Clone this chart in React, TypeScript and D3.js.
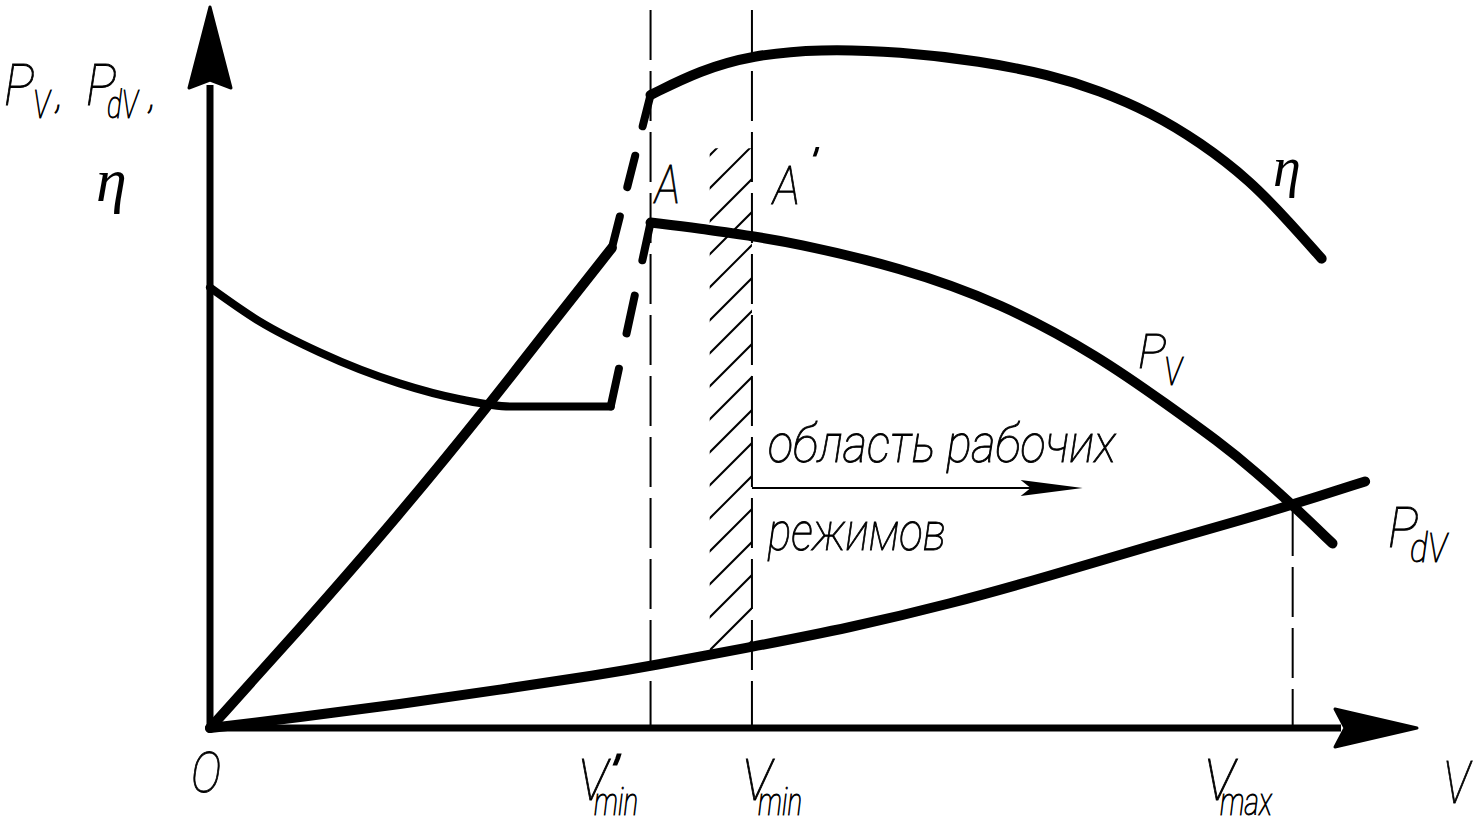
import React from "react";
import * as d3 from "d3";

const W = 1478;
const H = 831;

// All values in chart units: V (speed, 0..100), value (0..100)
const pdvCurve: [number, number][] = [
  [0, 0], [7.5, 1.5], [15.7, 3.3], [24.0, 5.3], [32.3, 7.4], [36.5, 8.6],
  [44.9, 11.25], [53.0, 13.9], [61.3, 17.2], [69.6, 21.1], [77.9, 25.3],
  [86.2, 29.2], [89.7, 31.0], [95.7, 34.2],
];
const pvRise: [number, number][] = [
  [0, 0], [7.3, 13.5], [15.7, 29.6], [23.2, 45.0], [28.2, 55.8], [33.3, 66.6],
];
const pvCurve: [number, number][] = [
  [36.5, 70.1], [40.6, 69.3], [44.9, 68.2], [48.1, 67.4], [57.2, 63.9],
  [65.5, 59.0], [73.7, 51.5], [79.5, 44.6], [83.5, 39.8], [86.6, 35.6], [89.7, 30.9], [93.0, 25.6],
];
const etaLow: [number, number][] = [
  [0, 61.1], [4.1, 56.4], [9.1, 52.1], [15.7, 47.8], [20.7, 45.6], [24.9, 44.6], [33.2, 44.6],
];
const etaCurve: [number, number][] = [
  [36.5, 87.8], [40.6, 91.2], [44.9, 93.3], [50.5, 94.2], [57.2, 93.8], [63.8, 92.5],
  [69.6, 90.6], [73.7, 88.4], [77.9, 85.4], [82.0, 81.3], [86.2, 75.9], [89.5, 70.0], [92.1, 65.1],
];
// dashed jumps at V'min
const jumpToEta: [number, number][] = [[33.3, 66.6], [36.5, 87.8]];
const jumpToPv: [number, number][] = [[33.2, 44.6], [36.5, 70.1]];

const speedMarks = { vMinPrime: 36.5, vMin: 44.9, vMax: 89.7, vMaxLevel: 30.8 };
const hatchBand = { from: 41.4, to: 44.9, top: 80.4 };
const regionArrow = { from: 44.9, to: 72.3, level: 33.3 };

function interp(arr: [number, number][], v: number) {
  for (let i = 0; i < arr.length - 1; i++) {
    const [a, av] = arr[i];
    const [b, bv] = arr[i + 1];
    if (v >= a && v <= b) return av + ((v - a) / (b - a)) * (bv - av);
  }
  return arr[arr.length - 1][1];
}

const FONT = "Roboto, 'Liberation Sans Narrow', 'DejaVu Sans Condensed', sans-serif";
const SERIF = "'Liberation Serif', 'DejaVu Serif', serif";

type Part = { t: string; x: number; y: number; size: number; len?: number };

function L({ parts, serif }: { parts: Part[]; serif?: boolean }) {
  return (
    <text
      fontFamily={serif ? SERIF : FONT}
      fontStyle="italic"
      fontWeight={serif ? 400 : 100}
      fill="#000"
      stroke={serif ? "none" : "#000"}
      strokeWidth={serif ? 0 : 0.9}
    >
      {parts.map((p, i) => (
        <tspan
          key={i}
          x={p.x}
          y={p.y}
          fontSize={p.size}
          {...(p.len ? { textLength: p.len, lengthAdjust: "spacingAndGlyphs" } : {})}
        >
          {p.t}
        </tspan>
      ))}
    </text>
  );
}

export default function App() {
  const x = d3.scaleLinear().domain([0, 100]).range([210, 1417]);
  const y = d3.scaleLinear().domain([0, 100]).range([728, 7]);

  const smooth = d3
    .line<[number, number]>()
    .x((d) => x(d[0]))
    .y((d) => y(d[1]))
    .curve(d3.curveBasis);
  const mono = d3
    .line<[number, number]>()
    .x((d) => x(d[0]))
    .y((d) => y(d[1]))
    .curve(d3.curveMonotoneX);
  const straight = d3
    .line<[number, number]>()
    .x((d) => x(d[0]))
    .y((d) => y(d[1]));

  const segLen = (s: [number, number][]) =>
    Math.hypot(x(s[1][0]) - x(s[0][0]), y(s[1][1]) - y(s[0][1]));
  const dashFor = (s: [number, number][]) => {
    const Ln = segLen(s);
    const d = Ln * 0.205;
    const g = (Ln - 3 * d) / 2;
    return `${d},${g}`;
  };

  // hatch
  const hx0 = x(hatchBand.from);
  const hx1 = x(hatchBand.to);
  const hTop = y(hatchBand.top);
  const hBot0 = y(interp(pdvCurve, hatchBand.from));
  const hBot1 = y(interp(pdvCurve, hatchBand.to));
  const clipPts = `${hx0},${hTop} ${hx1},${hTop} ${hx1},${hBot1} ${hx0},${hBot0}`;
  const hatchLines: { c: number }[] = [];
  for (let c = hx0 + hTop + 7; c < hx1 + Math.max(hBot0, hBot1) + 40; c += 33) hatchLines.push({ c });

  const ox = x(0);
  const oy = y(0);
  const yTip = y(100);
  const xTip = x(100);

  const arrowY = y(regionArrow.level);
  const arrowTip = x(regionArrow.to);

  return (
    <svg
      width={W}
      height={H}
      viewBox={`0 0 ${W} ${H}`}
      style={{ position: "absolute", left: 0, top: 0, background: "#fff" }}
    >
      <rect x={0} y={0} width={W} height={H} fill="#fff" />
      <defs>
        <clipPath id="hatchClip">
          <polygon points={clipPts} />
        </clipPath>
      </defs>

      {/* hatching */}
      <g clipPath="url(#hatchClip)" stroke="#000" strokeWidth={2}>
        {hatchLines.map((h, i) => (
          <line key={i} x1={hx0 - 5} y1={h.c - hx0 + 5} x2={hx1 + 5} y2={h.c - hx1 - 5} />
        ))}
      </g>

      {/* dashed verticals */}
      <g stroke="#000" strokeWidth={2} strokeDasharray="50,11" fill="none">
        <line x1={x(speedMarks.vMinPrime)} x2={x(speedMarks.vMinPrime)} y1={10} y2={oy} />
        <line x1={x(speedMarks.vMin)} x2={x(speedMarks.vMin)} y1={10} y2={oy} />
        <line x1={x(speedMarks.vMax)} x2={x(speedMarks.vMax)} y1={y(speedMarks.vMaxLevel)} y2={oy} />
      </g>

      {/* axes */}
      <line x1={ox} y1={oy + 3} x2={ox} y2={yTip + 78} stroke="#000" strokeWidth={7} />
      <path
        d={`M${ox},${yTip} L${ox + 21},${yTip + 81} L${ox},${yTip + 73} L${ox - 21},${yTip + 81} Z`}
        fill="#000" stroke="#000" strokeWidth={3} strokeLinejoin="round"
      />
      <line x1={ox - 3} y1={oy} x2={xTip - 76} y2={oy} stroke="#000" strokeWidth={7} />
      <path
        d={`M${xTip},${oy} L${xTip - 82},${oy - 19} L${xTip - 72},${oy} L${xTip - 82},${oy + 19} Z`}
        fill="#000" stroke="#000" strokeWidth={3} strokeLinejoin="round"
      />

      {/* region arrow */}
      <line x1={x(regionArrow.from)} y1={arrowY} x2={arrowTip - 50} y2={arrowY} stroke="#000" strokeWidth={2} />
      <path
        d={`M${arrowTip},${arrowY} L${arrowTip - 62},${arrowY - 8} L${arrowTip - 52},${arrowY} L${arrowTip - 62},${arrowY + 8} Z`}
        fill="#000"
      />

      {/* curves */}
      <g fill="none" stroke="#000" strokeLinecap="round" strokeLinejoin="round">
        <path d={smooth(pdvCurve) ?? ""} strokeWidth={10} />
        <path d={smooth(pvRise) ?? ""} strokeWidth={10} />
        <path d={smooth(pvCurve) ?? ""} strokeWidth={10} />
        <path d={mono(etaLow) ?? ""} strokeWidth={8} />
        <path d={smooth(etaCurve) ?? ""} strokeWidth={10} />
        <path d={straight(jumpToEta) ?? ""} strokeWidth={8} strokeDasharray={dashFor(jumpToEta)} />
        <path d={straight(jumpToPv) ?? ""} strokeWidth={8} strokeDasharray={dashFor(jumpToPv)} />
      </g>

      {/* y-axis label */}
      <L
        parts={[
          { t: "P", x: 4, y: 105, size: 58, len: 30 },
          { t: "V", x: 33, y: 118, size: 39, len: 17 },
          { t: ",", x: 56, y: 108, size: 40 },
          { t: "P", x: 86, y: 105, size: 58, len: 30 },
          { t: "dV", x: 107, y: 118, size: 39, len: 31 },
          { t: ",", x: 149, y: 108, size: 40 },
        ]}
      />
      <L serif parts={[{ t: "η", x: 96, y: 201, size: 62 }]} />

      {/* curve labels */}
      <L serif parts={[{ t: "η", x: 1273, y: 186, size: 56 }]} />
      <L
        parts={[
          { t: "P", x: 1138, y: 368, size: 49, len: 28 },
          { t: "V", x: 1164, y: 385, size: 38, len: 18 },
        ]}
      />
      <L
        parts={[
          { t: "P", x: 1388, y: 547, size: 56, len: 30 },
          { t: "dV", x: 1410, y: 562, size: 40, len: 37 },
        ]}
      />
      <L parts={[{ t: "A", x: 655, y: 203, size: 53, len: 25 }]} />
      <L
        parts={[
          { t: "A", x: 773, y: 204, size: 53, len: 27 },
          { t: "′", x: 806, y: 178, size: 40, len: 12 },
        ]}
      />

      {/* axis labels */}
      <L parts={[{ t: "O", x: 191, y: 792, size: 55, len: 30 }]} />
      <L
        parts={[
          { t: "V", x: 578, y: 800, size: 58, len: 30 },
          { t: "′", x: 602, y: 795, size: 54, len: 18 },
          { t: "min", x: 594, y: 815, size: 38, len: 44 },
        ]}
      />
      <L
        parts={[
          { t: "V", x: 742, y: 800, size: 58, len: 30 },
          { t: "min", x: 758, y: 815, size: 38, len: 44 },
        ]}
      />
      <L
        parts={[
          { t: "V", x: 1204, y: 800, size: 58, len: 31 },
          { t: "max", x: 1220, y: 815, size: 38, len: 52 },
        ]}
      />
      <L parts={[{ t: "V", x: 1443, y: 803, size: 59, len: 27 }]} />

      <L parts={[{ t: "область рабочих", x: 768, y: 462, size: 53, len: 348 }]} />
      <L parts={[{ t: "режимов", x: 768, y: 550, size: 53, len: 178 }]} />
    </svg>
  );
}
